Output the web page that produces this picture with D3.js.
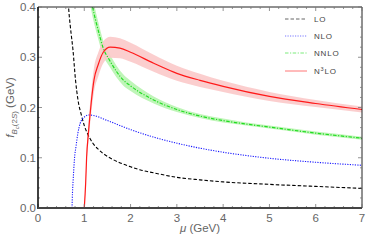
<!DOCTYPE html>
<html>
<head>
<script src="https://d3js.org/d3.v7.min.js"></script>
<style>
  body { margin: 0; background: #fff; }
  svg text { font-family: "Liberation Sans", Arial, sans-serif; }
</style>
</head>
<body>
<div id="chart"></div>
<script>
// LO (black dashed)
const loMu = [0.64, 0.66, 0.70, 0.756, 0.81, 0.864, 0.94, 1.0, 1.065, 1.2, 1.3, 1.4, 1.63, 2.0, 2.2, 2.5, 3.0, 3.5, 4.0, 5.0, 6.0, 7.0];
const loF  = [0.43, 0.40, 0.36, 0.314, 0.255, 0.215, 0.184, 0.164, 0.149, 0.127, 0.117, 0.109, 0.096, 0.082, 0.076, 0.070, 0.061, 0.056, 0.052, 0.047, 0.043, 0.039];

// NLO (blue dotted)
const nloMu = [0.735, 0.745, 0.76, 0.79, 0.82, 0.86, 0.91, 1.0, 1.1, 1.2, 1.5, 2.0, 2.5, 3.0, 3.5, 4.0, 5.0, 6.0, 7.0];
const nloF  = [0.0, 0.03, 0.056, 0.10, 0.122, 0.148, 0.168, 0.181, 0.185, 0.184, 0.174, 0.156, 0.141, 0.129, 0.119, 0.111, 0.099, 0.091, 0.085];

// NNLO (green dash-dot) with band
const nnloMu = [1.12, 1.18, 1.30, 1.41, 1.54, 1.84, 2.0, 2.5, 3.0, 3.5, 4.0, 4.5, 5.0, 6.0, 7.0];
const nnloF  = [0.43, 0.40, 0.354, 0.318, 0.295, 0.255, 0.243, 0.215, 0.196, 0.183, 0.174, 0.167, 0.161, 0.149, 0.139];
const nnloErr = [0.022, 0.02, 0.017, 0.015, 0.013, 0.011, 0.01, 0.007, 0.005, 0.004, 0.004, 0.003, 0.003, 0.003, 0.003];

// N3LO (red solid) with band
const n3loMu = [1.0, 1.03, 1.05, 1.09, 1.15, 1.21, 1.3, 1.41, 1.56, 1.77, 2.0, 2.5, 3.0, 3.5, 4.0, 5.0, 6.0, 7.0];
const n3loF  = [0.0, 0.05, 0.10, 0.15, 0.21, 0.255, 0.285, 0.310, 0.320, 0.318, 0.310, 0.288, 0.268, 0.254, 0.242, 0.222, 0.208, 0.196];
const n3loErr = [0.0, 0.006, 0.012, 0.018, 0.022, 0.024, 0.024, 0.022, 0.021, 0.020, 0.019, 0.017, 0.015, 0.013, 0.011, 0.009, 0.007, 0.006];

const xTicks = [0, 1, 2, 3, 4, 5, 6, 7];
const yTicks = [0.0, 0.1, 0.2, 0.3, 0.4];
const legendLabels = ["LO", "NLO", "NNLO", "N3LO"];

const W = 366, H = 244;
const margin = {top: 7, right: 4, bottom: 36, left: 38};

const svg = d3.select("#chart").append("svg")
  .attr("width", W).attr("height", H);

const x = d3.scaleLinear().domain([0, 7]).range([margin.left, W - margin.right]);
const y = d3.scaleLinear().domain([0, 0.4]).range([H - margin.bottom, margin.top]);

svg.append("clipPath").attr("id", "clip")
  .append("rect")
  .attr("x", x(0)).attr("y", y(0.4))
  .attr("width", x(7) - x(0)).attr("height", y(0) - y(0.4));

const plot = svg.append("g").attr("clip-path", "url(#clip)");

const line = d3.line().x(d => x(d[0])).y(d => y(d[1])).curve(d3.curveMonotoneX);
const band = d3.area().x(d => x(d[0])).y0(d => y(d[1] - d[2])).y1(d => y(d[1] + d[2])).curve(d3.curveMonotoneX);

const zip = (a, b, c) => a.map((v, i) => c ? [v, b[i], c[i]] : [v, b[i]]);

// bands
plot.append("path").datum(zip(nnloMu, nnloF, nnloErr))
  .attr("d", band).attr("fill", "#bff5b8").attr("stroke", "none");
plot.append("path").datum(zip(n3loMu, n3loF, n3loErr))
  .attr("d", band).attr("fill", "#fbc9c9").attr("fill-opacity", 0.9).attr("stroke", "none");

const styles = [
  {color: "#000", dash: "3.5,2", w: 1.1},
  {color: "#1a1aff", dash: "1.2,1.3", w: 1.1},
  {color: "#22dd22", dash: "3.5,1.5,1.2,1.5", w: 1.2},
  {color: "#ff1a1a", dash: null, w: 1.2}
];
const series = [zip(loMu, loF), zip(nloMu, nloF), zip(nnloMu, nnloF), zip(n3loMu, n3loF)];

series.forEach((s, i) => {
  plot.append("path").datum(s)
    .attr("d", line)
    .attr("fill", "none")
    .attr("stroke", styles[i].color)
    .attr("stroke-width", styles[i].w)
    .attr("stroke-dasharray", styles[i].dash);
});

// frame
const frameCol = "#444";
svg.append("line").attr("x1", x(0)).attr("x2", x(7)).attr("y1", y(0.4)).attr("y2", y(0.4))
  .attr("stroke", "#222").attr("stroke-width", 1);
svg.append("line").attr("x1", x(7)).attr("x2", x(7)).attr("y1", y(0)).attr("y2", y(0.4))
  .attr("stroke", "#222").attr("stroke-width", 1);

// ticks
const tickCol = "#777";
const xMinor = d3.range(0, 7.001, 0.2);
const yMinor = d3.range(0, 0.4001, 0.02);
const tg = svg.append("g");
xMinor.forEach(v => {
  const major = Math.abs(v - Math.round(v)) < 1e-6;
  const len = major ? 4 : 2;
  tg.append("line").attr("x1", x(v)).attr("x2", x(v)).attr("y1", y(0)).attr("y2", y(0) - len)
    .attr("stroke", tickCol).attr("stroke-width", 0.8);
  tg.append("line").attr("x1", x(v)).attr("x2", x(v)).attr("y1", y(0.4)).attr("y2", y(0.4) + len)
    .attr("stroke", tickCol).attr("stroke-width", 0.8);
});
yMinor.forEach(v => {
  const major = Math.abs(v * 10 - Math.round(v * 10)) < 1e-6;
  const len = major ? 4 : 2;
  tg.append("line").attr("x1", x(0)).attr("x2", x(0) + len).attr("y1", y(v)).attr("y2", y(v))
    .attr("stroke", tickCol).attr("stroke-width", 0.8);
  tg.append("line").attr("x1", x(7)).attr("x2", x(7) - len).attr("y1", y(v)).attr("y2", y(v))
    .attr("stroke", tickCol).attr("stroke-width", 0.8);
});

// left and bottom axis lines (thicker)
svg.append("line").attr("x1", x(0)).attr("x2", x(0)).attr("y1", y(0) + 1).attr("y2", y(0.4))
  .attr("stroke", "#111").attr("stroke-width", 1.6);
svg.append("line").attr("x1", x(0)).attr("x2", x(7)).attr("y1", y(0)).attr("y2", y(0))
  .attr("stroke", frameCol).attr("stroke-width", 1.8);

// tick labels
const labCol = "#666";
svg.append("g").selectAll("text").data(xTicks).join("text")
  .attr("x", d => x(d)).attr("y", y(0) + 14)
  .attr("text-anchor", "middle").attr("font-size", 11.5).attr("fill", labCol)
  .text(d => d);
svg.append("g").selectAll("text").data(yTicks).join("text")
  .attr("x", x(0) - 2).attr("y", d => y(d) + 4)
  .attr("text-anchor", "end").attr("font-size", 11.5).attr("fill", labCol)
  .text(d => d3.format(".1f")(d));

// axis titles
const xt = svg.append("text").attr("x", (x(0) + x(7)) / 2).attr("y", 232)
  .attr("text-anchor", "middle").attr("font-size", 11.5).attr("fill", labCol);
xt.append("tspan").attr("font-style", "italic").text("μ");
xt.append("tspan").text(" (GeV)");

const yt = svg.append("text")
  .attr("transform", `translate(14,${(y(0) + y(0.4)) / 2}) rotate(-90)`)
  .attr("text-anchor", "middle").attr("font-size", 11.5).attr("fill", labCol);
yt.append("tspan").attr("font-style", "italic").text("f");
yt.append("tspan").attr("font-size", 8).attr("dy", 3).attr("font-style", "italic").text("B");
yt.append("tspan").attr("font-size", 6).attr("dy", 1.5).attr("font-style", "italic").text("c");
yt.append("tspan").attr("font-size", 8).attr("dy", -1.5).text("(2");
yt.append("tspan").attr("font-size", 8).attr("font-style", "italic").text("S");
yt.append("tspan").attr("font-size", 8).text(")");
yt.append("tspan").attr("dy", -3).text(" (GeV)");

// legend
const lg = svg.append("g");
const rowY = [19, 36, 53, 71];
legendLabels.forEach((lab, i) => {
  lg.append("line").attr("x1", 285).attr("x2", 307).attr("y1", rowY[i]).attr("y2", rowY[i])
    .attr("stroke", styles[i].color).attr("stroke-width", 1)
    .attr("stroke-opacity", 0.6)
    .attr("stroke-dasharray", styles[i].dash);
  const t = lg.append("text").attr("x", 314).attr("y", rowY[i] + 3)
    .attr("font-size", 8).attr("fill", "#444").attr("letter-spacing", 0.8);
  if (lab === "N3LO") {
    t.append("tspan").text("N");
    t.append("tspan").attr("font-size", 5.5).attr("dy", -3).text("3");
    t.append("tspan").attr("dy", 3).text("LO");
  } else {
    t.text(lab);
  }
});
</script>
</body>
</html>
